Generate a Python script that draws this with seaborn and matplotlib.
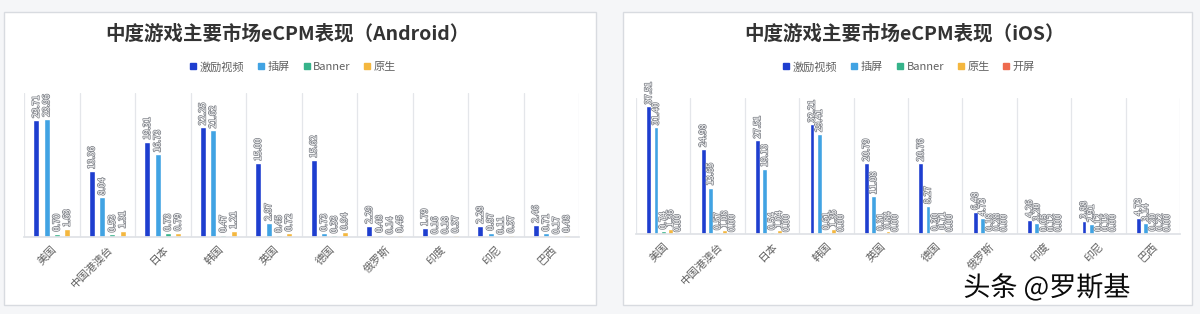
import numpy as np
import pandas as pd
import matplotlib
matplotlib.use("Agg")
import matplotlib.pyplot as plt
import seaborn as sns
from matplotlib import patheffects as pe
from matplotlib.patches import Rectangle
from matplotlib.lines import Line2D

sns.set_theme(style="white")
plt.rcParams["font.family"] = ["Noto Sans CJK SC", "DejaVu Sans"]

# ---------------- data ----------------
countries = ["美国", "中国港澳台", "日本", "韩国", "英国", "德国", "俄罗斯", "印度", "印尼", "巴西"]

android_series = ["激励视频", "插屏", "Banner", "原生"]
android_rewarded = [23.71, 13.36, 19.31, 22.25, 15.00, 15.62, 2.29, 1.79, 2.28, 2.46]
android_interstitial = [23.96, 8.04, 16.73, 21.62, 2.87, 0.73, 0.48, 0.16, 0.87, 0.71]
android_banner = [0.70, 0.53, 0.73, 0.47, 0.45, 0.33, 0.14, 0.18, 0.11, 0.17]
android_native = [1.63, 1.31, 0.79, 1.21, 0.72, 0.94, 0.45, 0.37, 0.37, 0.48]

ios_series = ["激励视频", "插屏", "Banner", "原生", "开屏"]
ios_rewarded = [37.51, 24.98, 27.51, 32.21, 20.79, 20.76, 6.48, 4.26, 3.88, 4.73]
ios_interstitial = [31.40, 13.65, 19.13, 29.41, 11.08, 8.27, 4.73, 3.20, 2.91, 3.14]
ios_banner = [0.74, 0.57, 0.54, 0.61, 0.31, 0.30, 0.18, 0.05, 0.12, 0.20]
ios_native = [1.36, 1.08, 1.04, 1.35, 0.84, 0.71, 0.28, 0.12, 0.15, 0.22]
ios_splash = [0.00, 0.00, 0.00, 0.00, 0.00, 0.00, 0.00, 0.00, 0.00, 0.00]

colors = ["#1e3ecf", "#41a3e3", "#36b38a", "#f4b73f", "#ee6a4e"]


def long_df(series_names, arrays):
    rows = []
    for name, arr in zip(series_names, arrays):
        for c, v in zip(countries, arr):
            rows.append({"country": c, "series": name, "value": v})
    return pd.DataFrame(rows)


df_android = long_df(android_series, [android_rewarded, android_interstitial,
                                      android_banner, android_native])
df_ios = long_df(ios_series, [ios_rewarded, ios_interstitial, ios_banner,
                              ios_native, ios_splash])

# ---------------- figure ----------------
W, H = 1200, 314
fig = plt.figure(figsize=(W / 100, H / 100), dpi=100, facecolor="#f5f6f8")


def fx(px):
    return px / W


def fy(py):
    return 1 - py / H


# cards
for x0, x1 in [(4, 596), (623, 1192)]:
    fig.add_artist(Rectangle((fx(x0), fy(305)), fx(x1 - x0), (305 - 12) / H,
                             transform=fig.transFigure, facecolor="white",
                             edgecolor="#d8dbe0", lw=1.0, zorder=0))

label_effect = [pe.withStroke(linewidth=1.2, foreground="#8a8d93")]


def draw(ax, df, series, width, gap, ymax):
    sns.barplot(data=df, x="country", y="value", hue="series", hue_order=series,
                order=countries, palette=colors[:len(series)], width=width, gap=gap,
                saturation=1, ax=ax, legend=False, errorbar=None)
    for cont in ax.containers:
        ax.bar_label(cont, fmt="%.2f", rotation=90, padding=1.5, fontsize=6.5,
                     color="white", path_effects=label_effect)
    ax.set_ylim(0, ymax)
    ax.set_xlim(-0.5, len(countries) - 0.5)
    ax.set_yticks([])
    ax.set_xlabel("")
    ax.set_ylabel("")
    ax.set_facecolor("none")
    for s in ["top", "right", "left"]:
        ax.spines[s].set_visible(False)
    ax.spines["bottom"].set_color("#dfe2e6")
    ax.set_xticks(np.arange(-0.5, len(countries), 1), minor=True)
    ax.grid(True, which="minor", axis="x", color="#e4e6ea", lw=0.9)
    ax.grid(False, which="major")
    ax.set_axisbelow(True)
    ax.tick_params(axis="x", which="both", length=0, pad=5)
    plt.setp(ax.get_xticklabels(), rotation=45, ha="right", rotation_mode="anchor",
             fontsize=7.8, color="#606060")


ax1 = fig.add_axes([fx(24), fy(237), fx(555), 144 / H])
draw(ax1, df_android, android_series, 0.74, 0.42, 29.2)

ax2 = fig.add_axes([fx(636), fy(234), fx(544), 136 / H])
draw(ax2, df_ios, ios_series, 0.66, 0.32, 40)

# titles
fig.text(fx(287), fy(34), "中度游戏主要市场eCPM表现（Android）", ha="center", va="center",
         fontsize=14, fontweight="bold", color="#333333")
fig.text(fx(904), fy(34), "中度游戏主要市场eCPM表现（iOS）", ha="center", va="center",
         fontsize=14, fontweight="bold", color="#333333")


def legend(series, cx):
    handles = [Line2D([], [], marker="s", ls="", color=c, markersize=5)
               for c in colors[:len(series)]]
    fig.legend(handles, series, loc="center", bbox_to_anchor=(fx(cx), fy(67)),
               ncol=len(series), frameon=False, fontsize=8, handletextpad=0.1,
               columnspacing=1.0, handlelength=1.0, labelcolor="#606060")


legend(android_series, 292)
legend(ios_series, 908)

# watermark
fig.text(fx(1047), fy(288), "头条 @罗斯基", ha="center", va="center", fontsize=19.5,
         color="#0a0a0a", fontweight="medium",
         path_effects=[pe.withStroke(linewidth=2.5, foreground="white")])

fig.savefig("out.png", dpi=100, facecolor=fig.get_facecolor())
